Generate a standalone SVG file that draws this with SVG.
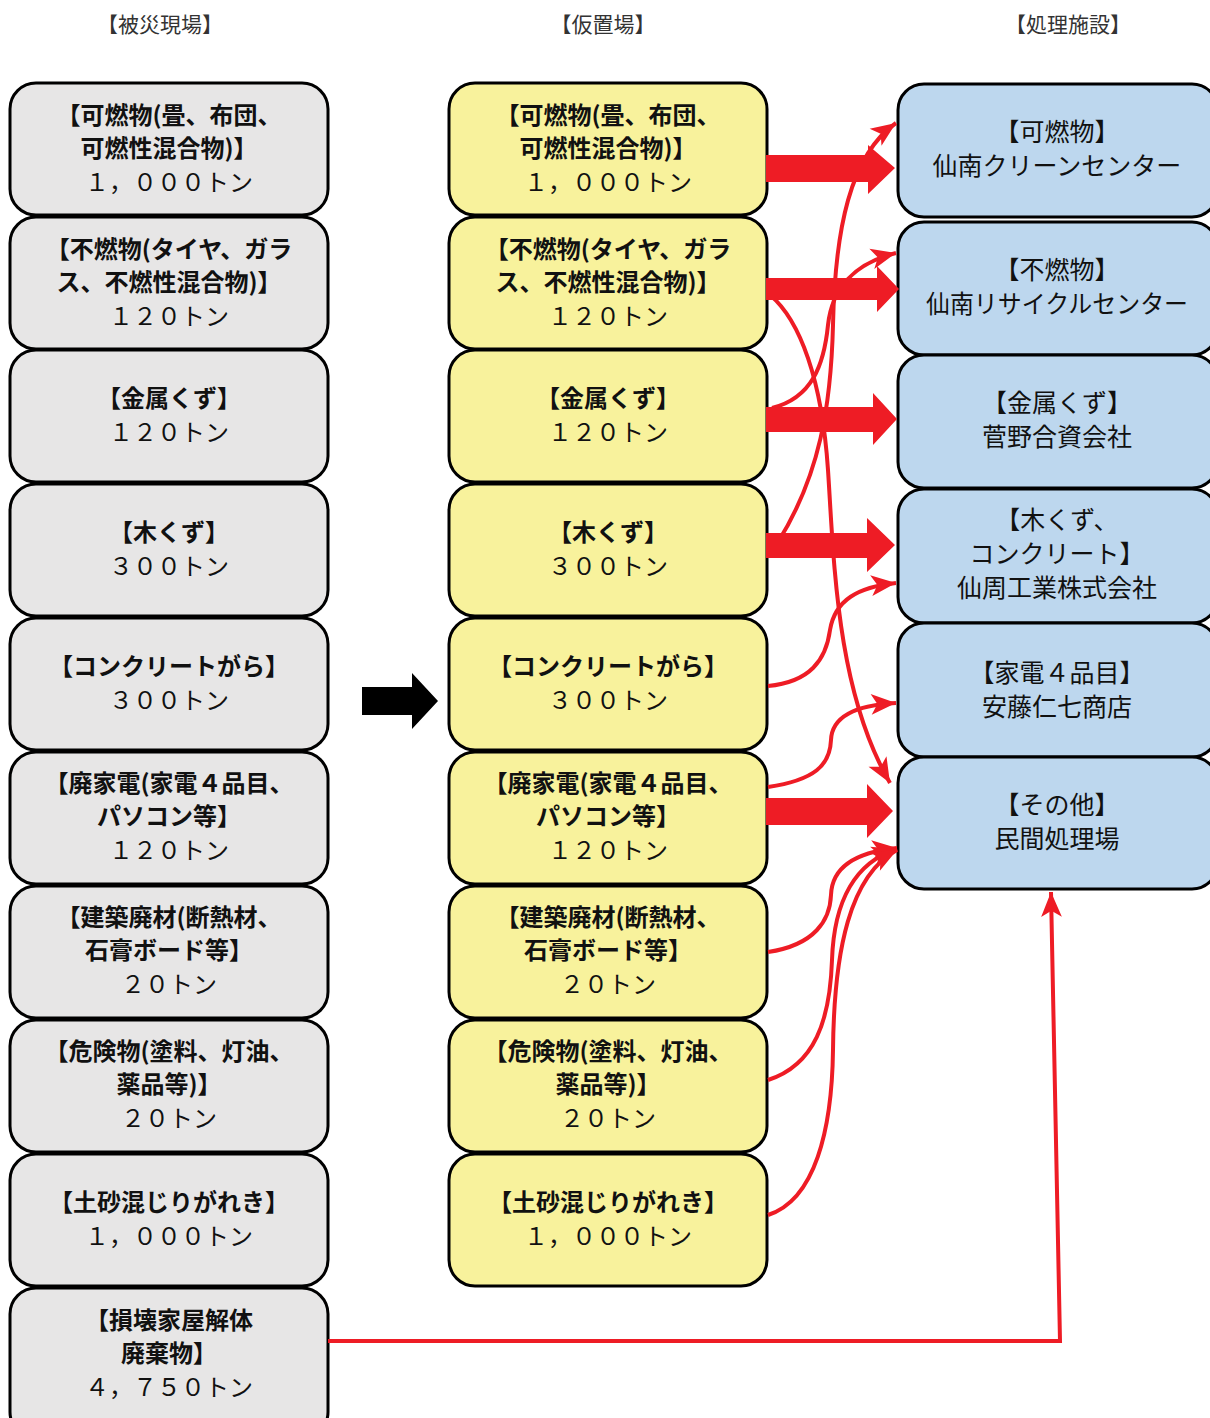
<svg xmlns="http://www.w3.org/2000/svg" width="1210" height="1418" viewBox="0 0 1210 1418">
<defs>
<style>
.hdr{font-family:"Noto Sans CJK JP","Noto Sans",sans-serif;font-size:21px;fill:#333;text-anchor:middle;dominant-baseline:central}
.t{font-family:"Noto Sans CJK JP","Noto Sans",sans-serif;font-size:24px;fill:#111;text-anchor:middle;dominant-baseline:central}
.b{font-weight:bold}
.r{font-size:25px}
.gray{fill:#E7E6E6;stroke:#000;stroke-width:3}
.yel{fill:#F8F29C;stroke:#000;stroke-width:3}
.blue{fill:#BDD7EE;stroke:#000;stroke-width:3}
.thick{fill:#EE1C25}
.thin{fill:none;stroke:#EE1C25;stroke-width:4;marker-end:url(#ah)}
</style>
<marker id="ah" markerUnits="userSpaceOnUse" markerWidth="28" markerHeight="26" viewBox="-25 -11 27 22" refX="0" refY="0" orient="auto">
<path d="M0,0 L-24,-10 L-18,0 L-24,10 Z" fill="#EE1C25"/>
</marker>
</defs>
<rect width="1210" height="1418" fill="#fff"/>
<text class="hdr" x="160" y="23">【被災現場】</text>
<text class="hdr" x="603" y="23">【仮置場】</text>
<text class="hdr" x="1068" y="23">【処理施設】</text>

<g id="src1"><rect class="gray" x="10" y="83" width="318" height="132" rx="26"/><text class="t b" x="169" y="113">【可燃物(畳、布団、</text><text class="t b" x="169" y="146">可燃性混合物)】</text><text class="t" x="169" y="180">１，０００トン</text></g>
<g id="src2"><rect class="gray" x="10" y="217" width="318" height="132" rx="26"/><text class="t b" x="169" y="247">【不燃物(タイヤ、ガラ</text><text class="t b" x="169" y="280">ス、不燃性混合物)】</text><text class="t" x="169" y="314">１２０トン</text></g>
<g id="src3"><rect class="gray" x="10" y="350" width="318" height="132" rx="26"/><text class="t b" x="169" y="396">【金属くず】</text><text class="t" x="169" y="430">１２０トン</text></g>
<g id="src4"><rect class="gray" x="10" y="484" width="318" height="132" rx="26"/><text class="t b" x="169" y="530">【木くず】</text><text class="t" x="169" y="564">３００トン</text></g>
<g id="src5"><rect class="gray" x="10" y="618" width="318" height="132" rx="26"/><text class="t b" x="169" y="664">【コンクリートがら】</text><text class="t" x="169" y="698">３００トン</text></g>
<g id="src6"><rect class="gray" x="10" y="752" width="318" height="132" rx="26"/><text class="t b" x="169" y="781">【廃家電(家電４品目、</text><text class="t b" x="169" y="814">パソコン等】</text><text class="t" x="169" y="848">１２０トン</text></g>
<g id="src7"><rect class="gray" x="10" y="886" width="318" height="132" rx="26"/><text class="t b" x="169" y="915">【建築廃材(断熱材、</text><text class="t b" x="169" y="948">石膏ボード等】</text><text class="t" x="169" y="982">２０トン</text></g>
<g id="src8"><rect class="gray" x="10" y="1020" width="318" height="132" rx="26"/><text class="t b" x="169" y="1049">【危険物(塗料、灯油、</text><text class="t b" x="169" y="1082">薬品等)】</text><text class="t" x="169" y="1116">２０トン</text></g>
<g id="src9"><rect class="gray" x="10" y="1154" width="318" height="132" rx="26"/><text class="t b" x="169" y="1200">【土砂混じりがれき】</text><text class="t" x="169" y="1234">１，０００トン</text></g>
<g id="src10"><rect class="gray" x="10" y="1288" width="318" height="150" rx="26"/><text class="t b" x="169" y="1318">【損壊家屋解体</text><text class="t b" x="169" y="1351">廃棄物】</text><text class="t" x="169" y="1385">４，７５０トン</text></g>

<g id="tmp1"><rect class="yel" x="449" y="83" width="318" height="132" rx="26"/><text class="t b" x="608" y="113">【可燃物(畳、布団、</text><text class="t b" x="608" y="146">可燃性混合物)】</text><text class="t" x="608" y="180">１，０００トン</text></g>
<g id="tmp2"><rect class="yel" x="449" y="217" width="318" height="132" rx="26"/><text class="t b" x="608" y="247">【不燃物(タイヤ、ガラ</text><text class="t b" x="608" y="280">ス、不燃性混合物)】</text><text class="t" x="608" y="314">１２０トン</text></g>
<g id="tmp3"><rect class="yel" x="449" y="350" width="318" height="132" rx="26"/><text class="t b" x="608" y="396">【金属くず】</text><text class="t" x="608" y="430">１２０トン</text></g>
<g id="tmp4"><rect class="yel" x="449" y="484" width="318" height="132" rx="26"/><text class="t b" x="608" y="530">【木くず】</text><text class="t" x="608" y="564">３００トン</text></g>
<g id="tmp5"><rect class="yel" x="449" y="618" width="318" height="132" rx="26"/><text class="t b" x="608" y="664">【コンクリートがら】</text><text class="t" x="608" y="698">３００トン</text></g>
<g id="tmp6"><rect class="yel" x="449" y="752" width="318" height="132" rx="26"/><text class="t b" x="608" y="781">【廃家電(家電４品目、</text><text class="t b" x="608" y="814">パソコン等】</text><text class="t" x="608" y="848">１２０トン</text></g>
<g id="tmp7"><rect class="yel" x="449" y="886" width="318" height="132" rx="26"/><text class="t b" x="608" y="915">【建築廃材(断熱材、</text><text class="t b" x="608" y="948">石膏ボード等】</text><text class="t" x="608" y="982">２０トン</text></g>
<g id="tmp8"><rect class="yel" x="449" y="1020" width="318" height="132" rx="26"/><text class="t b" x="608" y="1049">【危険物(塗料、灯油、</text><text class="t b" x="608" y="1082">薬品等)】</text><text class="t" x="608" y="1116">２０トン</text></g>
<g id="tmp9"><rect class="yel" x="449" y="1154" width="318" height="132" rx="26"/><text class="t b" x="608" y="1200">【土砂混じりがれき】</text><text class="t" x="608" y="1234">１，０００トン</text></g>

<g id="fac1"><rect class="blue" x="898" y="84" width="320" height="133" rx="26"/><text class="t r" x="1057" y="130">【可燃物】</text><text class="t r" x="1057" y="164">仙南クリーンセンター</text></g>
<g id="fac2"><rect class="blue" x="898" y="222" width="320" height="133" rx="26"/><text class="t r" x="1057" y="268">【不燃物】</text><text class="t r" x="1057" y="302" textLength="262" lengthAdjust="spacingAndGlyphs">仙南リサイクルセンター</text></g>
<g id="fac3"><rect class="blue" x="898" y="355" width="320" height="133" rx="26"/><text class="t r" x="1057" y="401">【金属くず】</text><text class="t r" x="1057" y="435">菅野合資会社</text></g>
<g id="fac4"><rect class="blue" x="898" y="489" width="320" height="134" rx="26"/><text class="t r" x="1057" y="518">【木くず、</text><text class="t r" x="1057" y="552">コンクリート】</text><text class="t r" x="1057" y="586">仙周工業株式会社</text></g>
<g id="fac5"><rect class="blue" x="898" y="623" width="320" height="134" rx="26"/><text class="t r" x="1057" y="671">【家電４品目】</text><text class="t r" x="1057" y="705">安藤仁七商店</text></g>
<g id="fac6"><rect class="blue" x="898" y="757" width="320" height="132" rx="26"/><text class="t r" x="1057" y="803">【その他】</text><text class="t r" x="1057" y="837">民間処理場</text></g>

<g id="connectors">
<polygon fill="#000" points="362,687 412,687 412,673 438,701 412,729 412,715 362,715"/>
<path class="thin" d="M770,295 C800,320 822,380 828,470 C834,560 836,690 890,783"/>
<path class="thin" d="M772,408 C812,398 824,365 828,325 C832,288 855,263 896,253"/>
<path class="thin" d="M778,542 C820,475 831,405 833,325 C835,230 850,155 896,123"/>
<path class="thin" d="M768,686 C810,682 826,660 830,630 C835,600 858,587 896,583"/>
<path class="thin" d="M768,787 C815,780 830,765 831,740 C832,715 858,705 896,703"/>
<path class="thin" d="M768,952 C815,945 830,920 831,895 C832,866 858,852 897,848"/>
<path class="thin" d="M768,1080 C815,1065 830,1020 832,960 C834,900 856,862 897,849"/>
<path class="thin" d="M768,1215 C815,1200 832,1130 833,1050 C834,950 850,875 897,850"/>
<path class="thin" d="M328,1341 L1060,1341 L1051,892"/>
<polygon class="thick" points="766,155 868,155 868,145 895,168 868,194 868,182 766,182"/>
<polygon class="thick" points="766,278 877,278 877,266 899,289 877,312 877,300 766,300"/>
<polygon class="thick" points="766,407 873,407 873,393 897,419 873,445 873,432 766,432"/>
<polygon class="thick" points="766,533 867,533 867,518 895,545 867,572 867,558 766,558"/>
<polygon class="thick" points="766,798 867,798 867,784 893,811 867,838 867,825 766,825"/>
</g>
</svg>
